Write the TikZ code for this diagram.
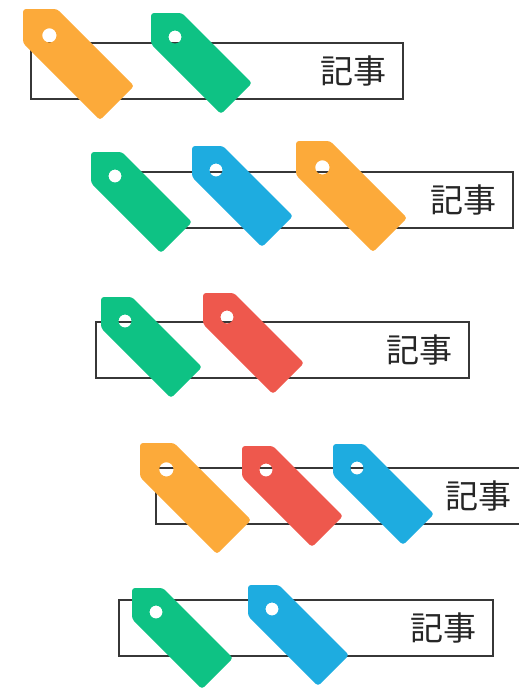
\documentclass[tikz,border=0pt]{standalone}
\usepackage{fontspec}
\newfontfamily\jpfont{Noto Sans CJK JP}
\usepackage{tikz}

\definecolor{tagorange}{RGB}{252,170,58}
\definecolor{taggreen}{RGB}{14,194,132}
\definecolor{tagblue}{RGB}{30,172,224}
\definecolor{tagred}{RGB}{238,88,77}
\definecolor{boxline}{RGB}{55,55,55}

\tikzset{
    kijibox/.style={draw=boxline, line width=1.5pt},
    kijitext/.style={anchor=east, inner sep=0pt, text=black!85, font=\jpfont\fontsize{33}{33}\selectfont},
    tag/.pic={
        \fill[#1, even odd rule, rounded corners=3pt]
            (0,0) -- (31,0) -- (101,70) -- (70,101) -- (0,31) -- cycle
            (24,24) circle[radius=6.5pt];
    }
}

\begin{document}
\begin{tikzpicture}[x=1pt, y=-1pt]

    \useasboundingbox (0,0) rectangle (519,689);
    \clip (0,0) rectangle (519,689);

    % boxes
    \draw[kijibox] (31,43) rectangle (403,99);
    \node[kijitext] (kiji1) at (387,71) {記事};

    \draw[kijibox] (141,172) rectangle (513,228);
    \node[kijitext] (kiji2) at (497,200) {記事};

    \draw[kijibox] (96,322) rectangle (469,378);
    \node[kijitext] (kiji3) at (453,350) {記事};

    \draw[kijibox] (156,468) rectangle (528,524);
    \node[kijitext] (kiji4) at (512,496) {記事};

    \draw[kijibox] (119,600) rectangle (493,656);
    \node[kijitext] (kiji5) at (477,628) {記事};

    % tags
    \pic[scale=1.1] at (23,9) {tag=tagorange};
    \pic at (151,13) {tag=taggreen};

    \pic at (91,152) {tag=taggreen};
    \pic at (192,146) {tag=tagblue};
    \pic[scale=1.1] at (296,141) {tag=tagorange};

    \pic at (101,297) {tag=taggreen};
    \pic at (203,293) {tag=tagred};

    \pic[scale=1.1] at (140,443) {tag=tagorange};
    \pic at (242,446) {tag=tagred};
    \pic at (333,444) {tag=tagblue};

    \pic at (132,588) {tag=taggreen};
    \pic at (248,585) {tag=tagblue};

\end{tikzpicture}
\end{document}
